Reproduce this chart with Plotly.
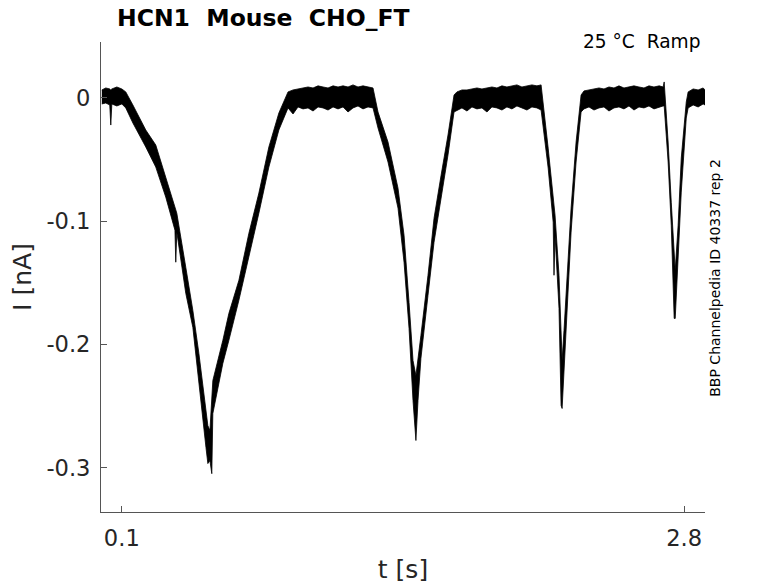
import plotly.graph_objects as go

# Time points (s) and upper / lower edges (nA) of the overlapped noisy sweeps
t = [0.004, 0.023, 0.042, 0.047, 0.052, 0.076, 0.100, 0.119, 0.153, 0.215,
     0.263, 0.311, 0.355, 0.359, 0.364, 0.407, 0.441, 0.470, 0.504, 0.513,
     0.523, 0.532, 0.537, 0.585, 0.614, 0.662, 0.710, 0.758, 0.806, 0.854,
     # plateau 1
     0.898, 0.922, 0.946, 0.970, 0.994, 1.018, 1.042, 1.066, 1.090, 1.114,
     1.138, 1.162, 1.186, 1.210, 1.234, 1.258, 1.282, 1.306,
     1.330, 1.378, 1.426, 1.455, 1.479, 1.498, 1.512, 1.522, 1.536, 1.570,
     1.599, 1.633, 1.666, 1.695,
     # plateau 2
     1.709, 1.733, 1.757, 1.781, 1.805, 1.829, 1.853, 1.877, 1.901, 1.925,
     1.949, 1.973, 1.997, 2.021, 2.045, 2.069, 2.093,
     2.113, 2.147, 2.171, 2.175, 2.180, 2.199, 2.209, 2.214, 2.223, 2.233,
     2.257, 2.281, 2.305,
     # plateau 3
     2.319, 2.343, 2.367, 2.391, 2.415, 2.439, 2.463, 2.487, 2.511, 2.535,
     2.559, 2.583, 2.607, 2.631, 2.655, 2.680,
     2.699, 2.704, 2.723, 2.738, 2.752, 2.757, 2.771, 2.786, 2.810,
     2.819, 2.843, 2.867, 2.891, 2.900]

i_upper = [0.0065, 0.0081, 0.0073, 0.0065, 0.0073, 0.0089, 0.0073, 0.0049, -0.0057, -0.0260,
           -0.0382, -0.0642, -0.0894, -0.0911, -0.0935, -0.1374, -0.1724, -0.2073, -0.2537, -0.2659,
           -0.2699, -0.2455, -0.2293, -0.1967, -0.1748, -0.1480, -0.1098, -0.0772, -0.0398, -0.0122,
           0.0049, 0.0065, 0.0073, 0.0081, 0.0089, 0.0081, 0.0098, 0.0089, 0.0081, 0.0098,
           0.0089, 0.0098, 0.0089, 0.0106, 0.0089, 0.0098, 0.0089, 0.0081,
           -0.0114, -0.0358, -0.0732, -0.1114, -0.1659, -0.2130, -0.2252, -0.2130, -0.1927, -0.1439,
           -0.0976, -0.0626, -0.0301, 0.0024,
           0.0049, 0.0065, 0.0065, 0.0073, 0.0081, 0.0073, 0.0081, 0.0089, 0.0081, 0.0098,
           0.0089, 0.0098, 0.0106, 0.0089, 0.0098, 0.0106, 0.0098,
           0.0106, -0.0407, -0.0829, -0.0870, -0.0951, -0.1439, -0.1886, -0.2130, -0.1886, -0.1585,
           -0.0894, -0.0358, 0.0024,
           0.0057, 0.0065, 0.0073, 0.0081, 0.0073, 0.0089, 0.0081, 0.0098, 0.0081, 0.0089,
           0.0098, 0.0089, 0.0081, 0.0098, 0.0089, 0.0098,
           0.0089, 0.0130, -0.0358, -0.0846, -0.1333, -0.1398, -0.1033, -0.0488, -0.0033,
           0.0049, 0.0073, 0.0065, 0.0081, 0.0065]

i_lower = [-0.0049, -0.0041, -0.0057, -0.0220, -0.0049, -0.0065, -0.0049, -0.0081, -0.0203, -0.0398,
           -0.0561, -0.0805, -0.1073, -0.1333, -0.1089, -0.1585, -0.1862, -0.2293, -0.2837, -0.2967,
           -0.2943, -0.3049, -0.2561, -0.2154, -0.1967, -0.1642, -0.1293, -0.0935, -0.0561, -0.0260,
           -0.0081, -0.0130, -0.0073, -0.0089, -0.0081, -0.0106, -0.0073, -0.0081, -0.0098, -0.0073,
           -0.0089, -0.0073, -0.0114, -0.0081, -0.0065, -0.0089, -0.0073, -0.0081,
           -0.0244, -0.0520, -0.0894, -0.1333, -0.1870, -0.2455, -0.2780, -0.2455, -0.2114, -0.1602,
           -0.1171, -0.0829, -0.0463, -0.0114,
           -0.0098, -0.0081, -0.0106, -0.0073, -0.0089, -0.0081, -0.0114, -0.0073, -0.0081, -0.0098,
           -0.0073, -0.0089, -0.0065, -0.0081, -0.0098, -0.0073, -0.0081,
           -0.0098, -0.0569, -0.1008, -0.1439, -0.1114, -0.1707, -0.2496, -0.2520, -0.2130, -0.1846,
           -0.1089, -0.0520, -0.0114,
           -0.0089, -0.0073, -0.0098, -0.0081, -0.0073, -0.0106, -0.0081, -0.0073, -0.0089, -0.0065,
           -0.0098, -0.0073, -0.0081, -0.0065, -0.0089, -0.0073,
           -0.0065, -0.0065, -0.0520, -0.1033, -0.1789, -0.1789, -0.1293, -0.0764, -0.0163,
           -0.0081, -0.0057, -0.0073, -0.0049, -0.0057]

x_ticks = [0.1, 2.8]
x_tick_text = ["0.1", "2.8"]
y_ticks = [0, -0.1, -0.2, -0.3]
y_tick_text = ["0", "-0.1", "-0.2", "-0.3"]

FONT = "DejaVu Sans"
AX = "#262626"
LINE = "#555555"

fig = go.Figure()
fig.add_trace(go.Scatter(
    x=t + t[::-1],
    y=i_upper + i_lower[::-1],
    mode="lines",
    fill="toself",
    fillcolor="black",
    line=dict(color="black", width=0.8),
    hoverinfo="skip",
    showlegend=False,
))

fig.update_layout(
    width=778, height=583,
    margin=dict(l=93, r=81, t=34, b=79),
    paper_bgcolor="white", plot_bgcolor="white",
    font=dict(family=FONT, color=AX),
    showlegend=False,
    xaxis=dict(
        range=[0.0, 2.9], tickvals=x_ticks, ticktext=x_tick_text,
        ticks="inside", ticklen=6, tickcolor=LINE,
        showline=True, linecolor=LINE, linewidth=1,
        showgrid=False, zeroline=False, mirror=False, automargin=False,
        ticklabelstandoff=6,
        tickfont=dict(size=22.6, family=FONT, color=AX),
        title=dict(text="t [s]", font=dict(size=25, family=FONT, color=AX), standoff=10),
    ),
    yaxis=dict(
        range=[-0.336, 0.0454], tickvals=y_ticks, ticktext=y_tick_text,
        ticks="inside", ticklen=6, tickcolor=LINE,
        showline=True, linecolor=LINE, linewidth=1,
        showgrid=False, zeroline=False, mirror=False, automargin=False,
        ticklabelstandoff=5,
        tickfont=dict(size=22.6, family=FONT, color=AX),
        title=dict(text="I [nA]", font=dict(size=25, family=FONT, color=AX), standoff=10),
    ),
    annotations=[
        dict(text="<b>HCN1 \u00a0Mouse \u00a0CHO_FT</b>", xref="paper", yref="paper",
             x=0.0224, y=1.051, xanchor="left", yanchor="middle", showarrow=False,
             font=dict(size=23.5, family=FONT, color="black")),
        dict(text="25 °C \u00a0Ramp", xref="paper", yref="paper",
             x=0.996, y=1.002, xanchor="right", yanchor="middle", showarrow=False,
             font=dict(size=18.6, family=FONT, color="black")),
        dict(text="BBP Channelpedia ID 40337 rep 2", xref="paper", yref="paper",
             x=1.017, y=0.499, xanchor="center", yanchor="middle", showarrow=False,
             textangle=-90, font=dict(size=14, family=FONT, color="black")),
    ],
)

fig.write_html("out.html")
